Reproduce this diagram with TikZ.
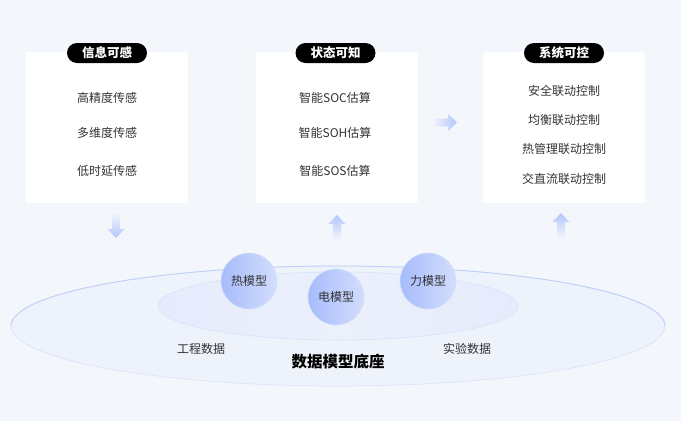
\documentclass[tikz,border=0pt]{standalone}
\usepackage{fontspec}
\setmainfont{Noto Sans CJK SC}
\definecolor{bg}{HTML}{F3F6FA}
\definecolor{txt}{HTML}{333333}
\definecolor{arr}{HTML}{B3C5FD}
\definecolor{ringline}{HTML}{BFCEF8}
\definecolor{ballL}{HTML}{A6BBFB}
\definecolor{ballR}{HTML}{D3DEFC}
\tikzset{
  panel/.style={fill=white, rounded corners=2pt, minimum width=162pt, minimum height=151pt, inner sep=0pt},
  pill/.style={fill=black, text=white, rounded corners=10pt, minimum width=80pt, minimum height=20pt, inner sep=0pt, font=\fontsize{12.5}{14}\selectfont\bfseries},
  item/.style={text=txt, font=\fontsize{12}{14}\selectfont, inner sep=0pt},
  ball/.style={circle, minimum size=56pt, inner sep=0pt, left color=ballL, right color=ballR, draw=ballR, line width=0.6pt, text=txt, font=\fontsize{12}{14}\selectfont},
}
\begin{document}
\begin{tikzpicture}[x=1pt,y=-1pt]
\useasboundingbox (0,0) rectangle (681,421);
\fill[bg] (0,0) rectangle (681,421);

% panels
\node[panel] (p1) at (107,127.5) {};
\node[panel] (p2) at (336.5,127.5) {};
\node[panel] (p3) at (564,127.5) {};

\node[pill] (t1) at (107,53) {信息可感};
\node[pill] (t2) at (335.5,53) {状态可知};
\node[pill] (t3) at (564,53) {系统可控};

\node[item] (a1) at (107,98) {高精度传感};
\node[item] (a2) at (107,133) {多维度传感};
\node[item] (a3) at (107,171) {低时延传感};

\node[item] (b1) at (335,98) {智能SOC估算};
\node[item] (b2) at (335,133) {智能SOH估算};
\node[item] (b3) at (335,171) {智能SOS估算};

\node[item] (c1) at (564,91) {安全联动控制};
\node[item] (c2) at (564,120) {均衡联动控制};
\node[item] (c3) at (564,149) {热管理联动控制};
\node[item] (c4) at (564,179) {交直流联动控制};

% base ellipses
\shade[left color=bg!60!ballR!70, right color=bg!60!ballR!70, middle color=bg!85!ballR, draw=ringline!55, line width=0.7pt]
  (338,326) ellipse [x radius=327, y radius=60];
\draw[ringline, line width=0.8pt] (11,326) arc [start angle=180, end angle=360, x radius=327, y radius=60];
\shade[left color=ballR!45!bg, right color=ballR!45!bg, middle color=ballR!25!bg, draw=ringline!60, line width=0.6pt]
  (338,306) ellipse [x radius=180, y radius=34];

\node[ball] (m1) at (249,281) {热模型};
\node[ball] (m2) at (336,297) {电模型};
\node[ball] (m3) at (428,281) {力模型};

\node[item] (d1) at (201,349) {工程数据};
\node[item] (d2) at (467,349) {实验数据};
\node[text=black, font=\fontsize{15.5}{18}\selectfont\bfseries, inner sep=0pt] (base) at (338,362) {数据模型底座};

% arrows
% down arrow under panel 1
\coordinate (d) at (116,213);
\shade[top color=bg, bottom color=arr]
  (d) ++(-4,0) -- ++(8,0) -- ++(0,16) -- ++(4.5,0) -- ++(-8.5,9) -- ++(-8.5,-9) -- ++(4.5,0) -- cycle;
% up arrow under panel 2
\coordinate (u) at (337,240);
\shade[bottom color=bg, top color=arr]
  (u) ++(-4,0) -- ++(8,0) -- ++(0,-16) -- ++(4.5,0) -- ++(-8.5,-9) -- ++(-8.5,9) -- ++(4.5,0) -- cycle;
% up arrow under panel 3
\coordinate (v) at (561,238);
\shade[bottom color=bg, top color=arr]
  (v) ++(-4,0) -- ++(8,0) -- ++(0,-16) -- ++(4.5,0) -- ++(-8.5,-9) -- ++(-8.5,9) -- ++(4.5,0) -- cycle;
% right arrow between panel 2 and 3
\coordinate (r) at (432,122.5);
\shade[left color=bg, right color=arr]
  (r) ++(0,-4) -- ++(0,8) -- ++(16,0) -- ++(0,4.5) -- ++(9,-8.5) -- ++(-9,-8.5) -- ++(0,4.5) -- cycle;
\end{tikzpicture}
\end{document}
